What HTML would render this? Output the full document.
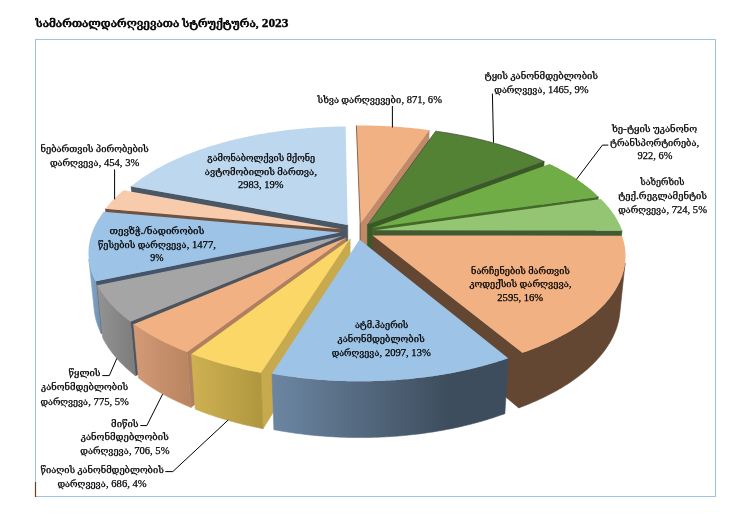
<!DOCTYPE html>
<html lang="ka"><head><meta charset="utf-8"><title>სამართალდარღვევათა სტრუქტურა, 2023</title>
<style>
html,body{margin:0;padding:0;background:#fff;}
body{width:740px;height:530px;overflow:hidden;position:relative;font-family:"Liberation Serif","DejaVu Serif",serif;}
svg{position:absolute;left:0;top:0;}
text{font-family:"Liberation Serif","DejaVu Serif",serif;fill:#000;stroke:#000;stroke-width:0.25px;}
.n{font-size:10px;}
</style></head><body>
<svg width="740" height="530" viewBox="0 0 740 530">
<rect x="35.5" y="39.5" width="680" height="457" fill="#fff" stroke="#9DC3E6" stroke-width="1"/>
<line x1="35.5" y1="482" x2="35.5" y2="497" stroke="#6B3F1C" stroke-width="1.2"/>
<g shape-rendering="geometricPrecision">
<defs><linearGradient id="g_tevz" gradientUnits="userSpaceOnUse" x1="88.8" y1="0" x2="101.1" y2="0"><stop offset="0" stop-color="#86A9CC"/><stop offset="1" stop-color="#6F8EAE"/></linearGradient><linearGradient id="g_tsylis" gradientUnits="userSpaceOnUse" x1="97.2" y1="0" x2="135.4" y2="0"><stop offset="0" stop-color="#939393"/><stop offset="1" stop-color="#7C7C7C"/></linearGradient><linearGradient id="g_mitsis" gradientUnits="userSpaceOnUse" x1="133.6" y1="0" x2="190.9" y2="0"><stop offset="0" stop-color="#D39A76"/><stop offset="1" stop-color="#B98460"/></linearGradient><linearGradient id="g_tsiag" gradientUnits="userSpaceOnUse" x1="191.4" y1="0" x2="263.1" y2="0"><stop offset="0" stop-color="#CFB152"/><stop offset="1" stop-color="#AF963F"/></linearGradient><linearGradient id="g_atm" gradientUnits="userSpaceOnUse" x1="271.9" y1="0" x2="508.3" y2="0"><stop offset="0" stop-color="#6C86A2"/><stop offset="0.75" stop-color="#3D4D5D"/><stop offset="1" stop-color="#3D4D5D"/></linearGradient></defs>
<path d="M360.20 223.58 L429.17 130.14 L427.98 174.72 L360.15 272.92Z" fill="#C08A68" stroke="#C08A68" stroke-width="0.6" stroke-linejoin="round"/>
<path d="M347.88 274.33 L135.21 233.91 L131.11 186.40 L347.69 224.92Z" fill="#4A5866" stroke="#4A5866" stroke-width="0.6" stroke-linejoin="round"/>
<path d="M367.51 224.97 L544.18 161.59 L540.93 207.83 L367.32 274.38Z" fill="#3A5A25" stroke="#3A5A25" stroke-width="0.6" stroke-linejoin="round"/>
<path d="M372.83 227.83 L598.39 196.63 L593.96 244.64 L372.54 277.38Z" fill="#44692B" stroke="#44692B" stroke-width="0.6" stroke-linejoin="round"/>
<path d="M341.25 278.92 L110.10 257.42 L105.39 208.79 L340.93 229.30Z" fill="#6F5240" stroke="#6F5240" stroke-width="0.6" stroke-linejoin="round"/>
<path d="M374.59 230.34 L622.06 230.46 L616.96 280.13 L374.26 280.00Z" fill="#425A33" stroke="#425A33" stroke-width="0.6" stroke-linejoin="round"/>
<path d="M340.65 282.15 L101.15 333.40 L95.77 281.36 L340.32 232.38Z" fill="#44546A" stroke="#44546A" stroke-width="0.6" stroke-linejoin="round"/>
<path d="M101.15 333.40 L100.61 332.29 L100.10 331.17 L99.60 330.06 L99.12 328.94 L98.67 327.83 L98.24 326.71 L97.82 325.59 L97.43 324.48 L97.06 323.36 L96.71 322.24 L96.38 321.12 L96.07 320.00 L95.78 318.89 L95.51 317.77 L95.26 316.65 L95.03 315.53 L94.82 314.42 L94.63 313.30 L94.46 312.18 L94.32 311.07 L94.19 309.95 L88.82 258.94 L88.94 260.00 L89.08 261.07 L89.25 262.13 L89.43 263.20 L89.64 264.27 L89.87 265.34 L90.11 266.41 L90.38 267.47 L90.67 268.54 L90.98 269.61 L91.31 270.68 L91.66 271.75 L92.03 272.82 L92.42 273.89 L92.84 274.96 L93.27 276.03 L93.73 277.09 L94.21 278.16 L94.70 279.23 L95.22 280.29 L95.77 281.36Z" fill="url(#g_tevz)" stroke="url(#g_tevz)" stroke-width="0.6" stroke-linejoin="round"/>
<path d="M372.61 235.52 L522.45 352.77 L518.75 407.89 L372.32 285.44ZM619.70 314.27 L619.56 315.39 L619.39 316.52 L619.21 317.64 L619.00 318.77 L618.78 319.90 L618.53 321.02 L618.27 322.15 L617.98 323.28 L617.67 324.41 L617.35 325.54 L617.00 326.67 L616.63 327.79 L616.24 328.92 L615.83 330.05 L615.40 331.18 L614.95 332.30 L614.48 333.43 L613.98 334.55 L613.47 335.68 L612.93 336.80 L612.38 337.92 L611.80 339.04 L611.20 340.16 L610.58 341.28 L609.94 342.39 L609.28 343.51 L608.60 344.62 L607.90 345.73 L607.17 346.84 L606.43 347.94 L605.66 349.05 L604.87 350.15 L604.06 351.25 L603.23 352.35 L602.37 353.44 L601.50 354.53 L600.61 355.62 L599.69 356.70 L598.75 357.79 L597.79 358.86 L596.81 359.94 L595.81 361.01 L594.79 362.08 L593.75 363.14 L592.68 364.21 L591.59 365.26 L590.49 366.31 L589.36 367.36 L588.21 368.41 L587.04 369.45 L585.85 370.48 L584.64 371.51 L583.40 372.54 L582.15 373.56 L580.88 374.57 L579.58 375.58 L578.26 376.59 L576.93 377.59 L575.57 378.58 L574.19 379.57 L572.80 380.55 L571.38 381.53 L569.94 382.50 L568.48 383.46 L567.00 384.42 L565.51 385.37 L563.99 386.31 L562.45 387.25 L560.89 388.18 L559.32 389.11 L557.72 390.02 L556.10 390.93 L554.47 391.84 L552.81 392.73 L551.14 393.62 L549.45 394.50 L547.74 395.37 L546.01 396.24 L544.26 397.10 L542.50 397.94 L540.71 398.79 L538.91 399.62 L537.09 400.44 L535.25 401.26 L533.39 402.06 L531.52 402.86 L529.63 403.65 L527.72 404.43 L525.80 405.20 L523.86 405.96 L521.90 406.71 L519.93 407.46 L518.75 407.89 L522.45 352.77 L523.65 352.35 L525.67 351.64 L527.67 350.91 L529.65 350.18 L531.61 349.44 L533.56 348.69 L535.49 347.93 L537.40 347.17 L539.30 346.39 L541.17 345.61 L543.03 344.82 L544.87 344.02 L546.69 343.21 L548.49 342.40 L550.27 341.58 L552.04 340.75 L553.78 339.91 L555.51 339.06 L557.22 338.21 L558.90 337.35 L560.57 336.49 L562.22 335.61 L563.84 334.73 L565.45 333.85 L567.04 332.95 L568.61 332.05 L570.15 331.15 L571.68 330.23 L573.19 329.31 L574.67 328.39 L576.14 327.46 L577.58 326.52 L579.00 325.58 L580.41 324.63 L581.79 323.68 L583.15 322.72 L584.49 321.76 L585.80 320.79 L587.10 319.82 L588.38 318.84 L589.63 317.86 L590.86 316.87 L592.07 315.88 L593.26 314.88 L594.43 313.88 L595.58 312.88 L596.70 311.87 L597.81 310.85 L598.89 309.84 L599.95 308.82 L600.99 307.79 L602.00 306.77 L603.00 305.74 L603.97 304.70 L604.92 303.67 L605.85 302.63 L606.76 301.58 L607.64 300.54 L608.51 299.49 L609.35 298.44 L610.17 297.39 L610.97 296.33 L611.75 295.28 L612.50 294.22 L613.23 293.16 L613.95 292.09 L614.64 291.03 L615.30 289.96 L615.95 288.89 L616.58 287.82 L617.18 286.75 L617.76 285.68 L618.32 284.61 L618.86 283.53 L619.38 282.46 L619.87 281.38 L620.35 280.31 L620.80 279.23 L621.23 278.15 L621.64 277.07 L622.03 275.99 L622.40 274.91 L622.75 273.84 L623.08 272.76 L623.38 271.68 L623.67 270.60 L623.93 269.52 L624.17 268.44 L624.40 267.36 L624.60 266.29 L624.78 265.21 L624.94 264.13 L625.08 263.06Z" fill="#634733" stroke="#634733" stroke-width="0.6" stroke-linejoin="round"/>
<path d="M343.07 285.74 L135.40 375.68 L130.49 321.85 L342.79 235.81Z" fill="#4C545E" stroke="#4C545E" stroke-width="0.6" stroke-linejoin="round"/>
<path d="M135.40 375.68 L134.11 374.67 L132.84 373.65 L131.59 372.63 L130.36 371.60 L129.15 370.57 L127.97 369.53 L126.80 368.49 L125.66 367.44 L124.54 366.39 L123.43 365.34 L122.35 364.28 L121.29 363.21 L120.25 362.15 L119.24 361.08 L118.24 360.00 L117.27 358.93 L116.31 357.85 L115.38 356.76 L114.47 355.68 L113.58 354.59 L112.71 353.49 L111.86 352.40 L111.04 351.30 L110.23 350.20 L109.45 349.09 L108.69 347.99 L107.94 346.88 L107.22 345.77 L106.53 344.66 L105.85 343.55 L105.19 342.43 L104.56 341.31 L103.94 340.19 L103.35 339.07 L102.78 337.95 L102.55 337.48 L97.16 285.26 L97.40 285.71 L97.98 286.79 L98.57 287.86 L99.19 288.93 L99.83 290.00 L100.50 291.07 L101.18 292.13 L101.89 293.20 L102.62 294.26 L103.37 295.32 L104.14 296.38 L104.93 297.44 L105.75 298.49 L106.58 299.54 L107.44 300.59 L108.32 301.64 L109.22 302.68 L110.15 303.72 L111.09 304.76 L112.06 305.80 L113.05 306.83 L114.06 307.86 L115.09 308.88 L116.15 309.90 L117.23 310.92 L118.32 311.94 L119.44 312.95 L120.58 313.96 L121.75 314.96 L122.93 315.96 L124.14 316.95 L125.37 317.94 L126.62 318.92 L127.89 319.91 L129.18 320.88 L130.49 321.85Z" fill="url(#g_tsylis)" stroke="url(#g_tsylis)" stroke-width="0.6" stroke-linejoin="round"/>
<path d="M346.30 287.67 L190.91 407.38 L187.09 352.27 L346.08 237.65Z" fill="#B07F60" stroke="#B07F60" stroke-width="0.6" stroke-linejoin="round"/>
<path d="M190.91 407.38 L188.99 406.59 L187.09 405.80 L185.21 405.00 L183.34 404.18 L181.50 403.36 L179.67 402.53 L177.86 401.70 L176.06 400.85 L174.29 400.00 L172.53 399.13 L170.79 398.26 L169.07 397.38 L167.37 396.50 L165.69 395.60 L164.03 394.70 L162.39 393.79 L160.76 392.88 L159.16 391.95 L157.57 391.02 L156.01 390.09 L154.46 389.14 L152.93 388.19 L151.43 387.23 L149.94 386.27 L148.47 385.30 L147.03 384.32 L145.60 383.34 L144.20 382.35 L142.81 381.36 L141.45 380.36 L140.10 379.35 L138.78 378.34 L138.43 378.07 L133.58 324.15 L133.93 324.40 L135.28 325.37 L136.64 326.34 L138.03 327.30 L139.44 328.25 L140.88 329.20 L142.33 330.14 L143.80 331.08 L145.30 332.01 L146.81 332.94 L148.35 333.85 L149.90 334.77 L151.48 335.67 L153.07 336.57 L154.69 337.46 L156.33 338.35 L157.98 339.23 L159.66 340.10 L161.35 340.97 L163.07 341.83 L164.80 342.68 L166.56 343.52 L168.33 344.36 L170.12 345.18 L171.94 346.00 L173.77 346.82 L175.61 347.62 L177.48 348.42 L179.37 349.21 L181.27 349.99 L183.19 350.76 L185.13 351.52 L187.09 352.27Z" fill="url(#g_mitsis)" stroke="url(#g_mitsis)" stroke-width="0.6" stroke-linejoin="round"/>
<path d="M350.25 288.97 L263.08 428.64 L260.87 372.70 L350.11 238.90Z" fill="#C8AA4E" stroke="#C8AA4E" stroke-width="0.6" stroke-linejoin="round"/>
<path d="M263.08 428.64 L260.72 428.18 L258.38 427.72 L256.04 427.24 L253.71 426.76 L251.39 426.25 L249.09 425.74 L246.79 425.22 L244.51 424.68 L242.24 424.14 L239.99 423.58 L237.74 423.01 L235.51 422.43 L233.29 421.84 L231.09 421.23 L228.90 420.62 L226.72 420.00 L224.55 419.36 L222.40 418.71 L220.27 418.06 L218.15 417.39 L216.04 416.71 L213.95 416.03 L211.88 415.33 L209.81 414.62 L207.77 413.90 L205.74 413.17 L203.73 412.43 L201.73 411.69 L199.75 410.93 L197.79 410.16 L195.84 409.39 L195.16 409.11 L191.44 353.94 L192.13 354.20 L194.12 354.95 L196.12 355.68 L198.14 356.41 L200.18 357.13 L202.24 357.84 L204.31 358.54 L206.40 359.23 L208.51 359.91 L210.63 360.58 L212.76 361.24 L214.92 361.89 L217.08 362.53 L219.27 363.16 L221.46 363.78 L223.68 364.39 L225.90 364.99 L228.14 365.58 L230.40 366.16 L232.67 366.73 L234.95 367.29 L237.24 367.84 L239.55 368.37 L241.87 368.90 L244.21 369.41 L246.55 369.92 L248.91 370.41 L251.28 370.89 L253.66 371.36 L256.05 371.82 L258.45 372.27 L260.87 372.70Z" fill="url(#g_tsiag)" stroke="url(#g_tsiag)" stroke-width="0.6" stroke-linejoin="round"/>
<path d="M504.86 413.64 L502.83 414.38 L500.79 415.11 L498.74 415.82 L496.67 416.53 L494.58 417.23 L492.48 417.92 L490.36 418.59 L488.23 419.26 L486.09 419.91 L483.93 420.56 L481.75 421.19 L479.56 421.82 L477.36 422.43 L475.15 423.03 L472.92 423.62 L470.68 424.20 L468.42 424.77 L466.16 425.32 L463.88 425.87 L461.59 426.40 L459.28 426.92 L456.97 427.43 L454.65 427.93 L452.31 428.42 L449.96 428.89 L447.61 429.36 L445.24 429.81 L442.86 430.24 L440.47 430.67 L438.08 431.08 L435.67 431.49 L433.25 431.88 L430.83 432.25 L428.40 432.62 L425.96 432.97 L423.51 433.31 L421.06 433.63 L418.59 433.95 L416.12 434.25 L413.65 434.53 L411.16 434.81 L408.68 435.07 L406.18 435.32 L403.68 435.56 L401.18 435.78 L398.67 435.99 L396.15 436.19 L393.63 436.37 L391.11 436.54 L388.58 436.70 L386.05 436.84 L383.52 436.97 L380.98 437.09 L378.44 437.19 L375.90 437.28 L373.36 437.36 L370.81 437.42 L368.27 437.48 L365.72 437.51 L363.17 437.54 L360.62 437.55 L358.08 437.54 L355.53 437.53 L352.98 437.50 L350.43 437.46 L347.89 437.40 L345.34 437.33 L342.80 437.25 L340.26 437.15 L337.72 437.04 L335.18 436.92 L332.65 436.78 L330.12 436.63 L327.60 436.47 L325.07 436.29 L322.56 436.10 L320.04 435.90 L317.53 435.69 L315.03 435.46 L312.53 435.22 L310.04 434.96 L307.55 434.69 L305.07 434.41 L302.59 434.12 L300.12 433.82 L297.66 433.50 L295.21 433.16 L292.76 432.82 L290.32 432.46 L287.89 432.09 L285.47 431.71 L283.06 431.32 L280.65 430.91 L278.26 430.49 L275.87 430.06 L273.89 429.69 L271.93 373.72 L273.95 374.07 L276.39 374.48 L278.85 374.89 L281.31 375.28 L283.77 375.66 L286.25 376.02 L288.74 376.38 L291.23 376.72 L293.74 377.05 L296.25 377.37 L298.77 377.68 L301.29 377.97 L303.83 378.26 L306.37 378.53 L308.91 378.78 L311.47 379.03 L314.02 379.26 L316.59 379.48 L319.15 379.69 L321.73 379.88 L324.31 380.06 L326.89 380.23 L329.47 380.39 L332.06 380.53 L334.66 380.66 L337.25 380.78 L339.85 380.89 L342.45 380.98 L345.05 381.06 L347.66 381.13 L350.27 381.18 L352.87 381.22 L355.48 381.25 L358.09 381.27 L360.70 381.27 L363.31 381.26 L365.91 381.24 L368.52 381.20 L371.13 381.15 L373.73 381.09 L376.34 381.02 L378.94 380.93 L381.54 380.83 L384.13 380.72 L386.73 380.59 L389.32 380.45 L391.90 380.30 L394.49 380.14 L397.07 379.96 L399.64 379.77 L402.21 379.57 L404.77 379.35 L407.33 379.13 L409.89 378.89 L412.43 378.64 L414.97 378.37 L417.51 378.09 L420.04 377.81 L422.56 377.50 L425.07 377.19 L427.57 376.86 L430.07 376.53 L432.56 376.18 L435.04 375.81 L437.51 375.44 L439.97 375.05 L442.42 374.66 L444.87 374.25 L447.30 373.82 L449.72 373.39 L452.13 372.95 L454.53 372.49 L456.92 372.02 L459.30 371.54 L461.67 371.05 L464.02 370.55 L466.37 370.04 L468.70 369.51 L471.02 368.98 L473.32 368.43 L475.61 367.88 L477.89 367.31 L480.16 366.73 L482.41 366.14 L484.64 365.54 L486.87 364.93 L489.07 364.32 L491.27 363.69 L493.45 363.05 L495.61 362.40 L497.76 361.74 L499.89 361.07 L502.01 360.39 L504.11 359.70 L506.19 359.00 L508.26 358.29Z" fill="url(#g_atm)" stroke="url(#g_atm)" stroke-width="0.6" stroke-linejoin="round"/>
<path d="M360.20 223.58 L356.40 125.51 L358.25 125.50 L360.10 125.50 L361.95 125.50 L363.79 125.51 L365.64 125.53 L367.48 125.56 L369.33 125.59 L371.18 125.62 L373.02 125.66 L374.87 125.71 L376.71 125.77 L378.55 125.83 L380.40 125.90 L382.24 125.98 L384.08 126.06 L385.92 126.14 L387.75 126.24 L389.59 126.34 L391.43 126.45 L393.26 126.56 L395.09 126.68 L396.93 126.81 L398.76 126.94 L400.58 127.08 L402.41 127.23 L404.23 127.38 L406.05 127.54 L407.88 127.70 L409.69 127.87 L411.51 128.05 L413.32 128.24 L415.13 128.43 L416.94 128.62 L418.75 128.83 L420.55 129.04 L422.35 129.25 L424.15 129.48 L425.94 129.71 L427.73 129.94 L429.17 130.14Z" fill="#F2B183"/>
<path d="M360.15 272.92 L360.20 223.58 L356.40 125.51" fill="none" stroke="#6B4A36" stroke-width="0.8"/>
<path d="M347.69 224.92 L131.11 186.40 L132.12 185.57 L133.14 184.75 L134.17 183.92 L135.22 183.11 L136.28 182.30 L137.35 181.49 L138.43 180.69 L139.53 179.90 L140.64 179.11 L141.76 178.32 L142.89 177.54 L144.04 176.77 L145.19 176.00 L146.36 175.23 L147.54 174.47 L148.73 173.72 L149.93 172.97 L151.15 172.23 L152.37 171.49 L153.61 170.75 L154.86 170.03 L156.12 169.31 L157.38 168.59 L158.66 167.88 L159.95 167.17 L161.25 166.47 L162.56 165.78 L163.89 165.09 L165.22 164.41 L166.56 163.73 L167.91 163.06 L169.27 162.39 L170.64 161.73 L172.02 161.08 L173.41 160.43 L174.80 159.78 L176.21 159.15 L177.63 158.52 L179.05 157.89 L180.49 157.27 L181.93 156.65 L183.39 156.05 L184.85 155.44 L186.32 154.85 L187.79 154.26 L189.28 153.67 L190.77 153.09 L192.28 152.52 L193.79 151.95 L195.30 151.39 L196.83 150.84 L198.36 150.29 L199.90 149.74 L201.45 149.21 L203.01 148.68 L204.57 148.15 L206.14 147.63 L207.72 147.12 L209.31 146.61 L210.90 146.11 L212.50 145.62 L214.10 145.13 L215.71 144.65 L217.33 144.17 L218.95 143.70 L220.59 143.24 L222.22 142.78 L223.87 142.33 L225.52 141.89 L227.17 141.45 L228.83 141.01 L230.50 140.59 L232.17 140.17 L233.85 139.75 L235.53 139.35 L237.22 138.94 L238.92 138.55 L240.61 138.16 L242.32 137.78 L244.03 137.40 L245.74 137.03 L247.46 136.67 L249.19 136.31 L250.91 135.96 L252.65 135.61 L254.38 135.28 L256.13 134.94 L257.87 134.62 L259.62 134.30 L261.38 133.98 L263.14 133.68 L264.90 133.38 L266.66 133.08 L268.43 132.80 L270.21 132.51 L271.98 132.24 L273.77 131.97 L275.55 131.71 L277.34 131.45 L279.13 131.20 L280.92 130.96 L282.72 130.72 L284.52 130.49 L286.32 130.27 L288.13 130.05 L289.93 129.84 L291.74 129.64 L293.56 129.44 L295.37 129.25 L297.19 129.06 L299.01 128.88 L300.83 128.71 L302.66 128.55 L304.48 128.39 L306.31 128.23 L308.14 128.09 L309.98 127.95 L311.81 127.81 L313.64 127.69 L315.48 127.57 L317.32 127.45 L319.16 127.34 L321.00 127.24 L322.84 127.15 L324.69 127.06 L326.53 126.98 L328.38 126.90 L330.22 126.83 L332.07 126.77 L333.92 126.71 L335.76 126.66 L337.61 126.62 L339.46 126.58 L341.31 126.55 L343.16 126.53 L345.01 126.51 L345.61 126.51Z" fill="#BDD7EE"/>
<path d="M367.51 224.97 L435.65 131.19 L437.44 131.44 L439.23 131.69 L441.02 131.95 L442.80 132.22 L444.58 132.49 L446.35 132.77 L448.12 133.06 L449.89 133.35 L451.65 133.65 L453.41 133.96 L455.17 134.27 L456.92 134.59 L458.67 134.91 L460.41 135.24 L462.15 135.58 L463.88 135.92 L465.61 136.27 L467.34 136.63 L469.06 136.99 L470.77 137.36 L472.48 137.73 L474.19 138.12 L475.89 138.50 L477.59 138.90 L479.28 139.30 L480.96 139.70 L482.64 140.12 L484.31 140.53 L485.98 140.96 L487.64 141.39 L489.30 141.83 L490.95 142.27 L492.60 142.72 L494.24 143.18 L495.87 143.64 L497.49 144.11 L499.11 144.58 L500.73 145.06 L502.33 145.55 L503.93 146.04 L505.53 146.54 L507.11 147.05 L508.69 147.56 L510.27 148.08 L511.83 148.60 L513.39 149.13 L514.94 149.67 L516.48 150.21 L518.02 150.76 L519.55 151.31 L521.07 151.87 L522.58 152.43 L524.08 153.01 L525.58 153.58 L527.07 154.17 L528.55 154.76 L530.02 155.35 L531.48 155.95 L532.94 156.56 L534.38 157.17 L535.82 157.79 L537.25 158.42 L538.67 159.05 L540.08 159.68 L541.48 160.33 L542.87 160.97 L544.18 161.59Z" fill="#548235" stroke="#3F4540" stroke-width="0.7"/>
<path d="M372.83 227.83 L549.67 163.97 L551.06 164.63 L552.43 165.30 L553.79 165.98 L555.15 166.66 L556.49 167.34 L557.83 168.04 L559.15 168.73 L560.47 169.44 L561.77 170.15 L563.06 170.86 L564.35 171.58 L565.62 172.31 L566.88 173.04 L568.13 173.78 L569.37 174.52 L570.60 175.26 L571.81 176.02 L573.02 176.78 L574.21 177.54 L575.40 178.31 L576.57 179.08 L577.73 179.86 L578.87 180.65 L580.01 181.44 L581.13 182.23 L582.24 183.03 L583.34 183.84 L584.43 184.65 L585.50 185.46 L586.56 186.28 L587.61 187.11 L588.65 187.94 L589.67 188.77 L590.68 189.61 L591.67 190.46 L592.66 191.31 L593.63 192.16 L594.58 193.02 L595.52 193.89 L596.45 194.76 L597.37 195.63 L598.27 196.51 L598.39 196.63Z" fill="#70AD47"/>
<path d="M340.93 229.30 L105.39 208.79 L106.12 207.86 L106.86 206.93 L107.61 206.01 L108.39 205.09 L109.17 204.17 L109.98 203.26 L110.79 202.35 L111.62 201.45 L112.47 200.55 L113.33 199.65 L114.21 198.76 L115.09 197.88 L116.00 197.00 L116.92 196.12 L117.85 195.25 L118.79 194.38 L119.75 193.52 L120.72 192.66 L121.71 191.81 L122.71 190.96 L123.47 190.33Z" fill="#F8CBAD"/>
<path d="M374.59 230.34 L600.82 198.92 L601.71 199.81 L602.58 200.70 L603.44 201.60 L604.29 202.50 L605.12 203.41 L605.94 204.32 L606.74 205.23 L607.53 206.15 L608.30 207.07 L609.06 208.00 L609.80 208.93 L610.53 209.87 L611.24 210.81 L611.94 211.75 L612.61 212.70 L613.28 213.65 L613.93 214.61 L614.56 215.57 L615.17 216.53 L615.77 217.50 L616.35 218.47 L616.92 219.44 L617.47 220.42 L618.00 221.40 L618.52 222.38 L619.02 223.37 L619.50 224.36 L619.96 225.36 L620.41 226.35 L620.84 227.35 L621.25 228.35 L621.65 229.36 L622.02 230.37 L622.06 230.46Z" fill="#93C572"/>
<path d="M340.32 232.38 L95.77 281.36 L95.22 280.29 L94.70 279.23 L94.21 278.16 L93.73 277.09 L93.27 276.03 L92.84 274.96 L92.42 273.89 L92.03 272.82 L91.66 271.75 L91.31 270.68 L90.98 269.61 L90.67 268.54 L90.38 267.47 L90.11 266.41 L89.87 265.34 L89.64 264.27 L89.43 263.20 L89.25 262.13 L89.08 261.07 L88.94 260.00 L88.82 258.94 L88.71 257.87 L88.63 256.81 L88.56 255.75 L88.52 254.69 L88.50 253.63 L88.49 252.57 L88.51 251.51 L88.54 250.46 L88.60 249.40 L88.67 248.35 L88.76 247.30 L88.88 246.25 L89.01 245.20 L89.16 244.16 L89.33 243.12 L89.52 242.08 L89.72 241.04 L89.95 240.00 L90.20 238.97 L90.46 237.94 L90.74 236.91 L91.04 235.88 L91.36 234.86 L91.69 233.83 L92.05 232.82 L92.42 231.80 L92.81 230.79 L93.22 229.78 L93.64 228.77 L94.09 227.77 L94.55 226.77 L95.02 225.77 L95.52 224.78 L96.03 223.79 L96.56 222.80 L97.10 221.81 L97.67 220.83 L98.25 219.86 L98.84 218.88 L99.45 217.91 L100.08 216.95 L100.72 215.98 L101.39 215.03 L102.06 214.07 L102.75 213.12 L103.46 212.17 L103.82 211.70Z" fill="#9DC3E6"/>
<path d="M372.61 235.52 L621.84 235.65 L622.20 236.67 L622.55 237.70 L622.87 238.74 L623.18 239.77 L623.46 240.81 L623.73 241.85 L623.98 242.89 L624.21 243.93 L624.42 244.98 L624.62 246.03 L624.79 247.08 L624.95 248.13 L625.09 249.19 L625.20 250.25 L625.30 251.31 L625.38 252.37 L625.44 253.43 L625.48 254.49 L625.50 255.56 L625.50 256.63 L625.48 257.70 L625.44 258.77 L625.38 259.84 L625.30 260.91 L625.20 261.98 L625.08 263.06 L624.94 264.13 L624.78 265.21 L624.60 266.29 L624.40 267.36 L624.17 268.44 L623.93 269.52 L623.67 270.60 L623.38 271.68 L623.08 272.76 L622.75 273.84 L622.40 274.91 L622.03 275.99 L621.64 277.07 L621.23 278.15 L620.80 279.23 L620.35 280.31 L619.87 281.38 L619.38 282.46 L618.86 283.53 L618.32 284.61 L617.76 285.68 L617.18 286.75 L616.58 287.82 L615.95 288.89 L615.30 289.96 L614.64 291.03 L613.95 292.09 L613.23 293.16 L612.50 294.22 L611.75 295.28 L610.97 296.33 L610.17 297.39 L609.35 298.44 L608.51 299.49 L607.64 300.54 L606.76 301.58 L605.85 302.63 L604.92 303.67 L603.97 304.70 L603.00 305.74 L602.00 306.77 L600.99 307.79 L599.95 308.82 L598.89 309.84 L597.81 310.85 L596.70 311.87 L595.58 312.88 L594.43 313.88 L593.26 314.88 L592.07 315.88 L590.86 316.87 L589.63 317.86 L588.38 318.84 L587.10 319.82 L585.80 320.79 L584.49 321.76 L583.15 322.72 L581.79 323.68 L580.41 324.63 L579.00 325.58 L577.58 326.52 L576.14 327.46 L574.67 328.39 L573.19 329.31 L571.68 330.23 L570.15 331.15 L568.61 332.05 L567.04 332.95 L565.45 333.85 L563.84 334.73 L562.22 335.61 L560.57 336.49 L558.90 337.35 L557.22 338.21 L555.51 339.06 L553.78 339.91 L552.04 340.75 L550.27 341.58 L548.49 342.40 L546.69 343.21 L544.87 344.02 L543.03 344.82 L541.17 345.61 L539.30 346.39 L537.40 347.17 L535.49 347.93 L533.56 348.69 L531.61 349.44 L529.65 350.18 L527.67 350.91 L525.67 351.64 L523.65 352.35 L522.45 352.77Z" fill="#F2B183"/>
<path d="M342.79 235.81 L130.49 321.85 L129.18 320.88 L127.89 319.91 L126.62 318.92 L125.37 317.94 L124.14 316.95 L122.93 315.96 L121.75 314.96 L120.58 313.96 L119.44 312.95 L118.32 311.94 L117.23 310.92 L116.15 309.90 L115.09 308.88 L114.06 307.86 L113.05 306.83 L112.06 305.80 L111.09 304.76 L110.15 303.72 L109.22 302.68 L108.32 301.64 L107.44 300.59 L106.58 299.54 L105.75 298.49 L104.93 297.44 L104.14 296.38 L103.37 295.32 L102.62 294.26 L101.89 293.20 L101.18 292.13 L100.50 291.07 L99.83 290.00 L99.19 288.93 L98.57 287.86 L97.98 286.79 L97.40 285.71 L97.16 285.26Z" fill="#A5A5A5"/>
<path d="M346.08 237.65 L187.09 352.27 L185.13 351.52 L183.19 350.76 L181.27 349.99 L179.37 349.21 L177.48 348.42 L175.61 347.62 L173.77 346.82 L171.94 346.00 L170.12 345.18 L168.33 344.36 L166.56 343.52 L164.80 342.68 L163.07 341.83 L161.35 340.97 L159.66 340.10 L157.98 339.23 L156.33 338.35 L154.69 337.46 L153.07 336.57 L151.48 335.67 L149.90 334.77 L148.35 333.85 L146.81 332.94 L145.30 332.01 L143.80 331.08 L142.33 330.14 L140.88 329.20 L139.44 328.25 L138.03 327.30 L136.64 326.34 L135.28 325.37 L133.93 324.40 L133.58 324.15Z" fill="#F2B183"/>
<path d="M350.11 238.90 L260.87 372.70 L258.45 372.27 L256.05 371.82 L253.66 371.36 L251.28 370.89 L248.91 370.41 L246.55 369.92 L244.21 369.41 L241.87 368.90 L239.55 368.37 L237.24 367.84 L234.95 367.29 L232.67 366.73 L230.40 366.16 L228.14 365.58 L225.90 364.99 L223.68 364.39 L221.46 363.78 L219.27 363.16 L217.08 362.53 L214.92 361.89 L212.76 361.24 L210.63 360.58 L208.51 359.91 L206.40 359.23 L204.31 358.54 L202.24 357.84 L200.18 357.13 L198.14 356.41 L196.12 355.68 L194.12 354.95 L192.13 354.20 L191.44 353.94Z" fill="#FAD766"/>
<path d="M359.55 239.62 L508.26 358.29 L506.19 359.00 L504.11 359.70 L502.01 360.39 L499.89 361.07 L497.76 361.74 L495.61 362.40 L493.45 363.05 L491.27 363.69 L489.07 364.32 L486.87 364.93 L484.64 365.54 L482.41 366.14 L480.16 366.73 L477.89 367.31 L475.61 367.88 L473.32 368.43 L471.02 368.98 L468.70 369.51 L466.37 370.04 L464.02 370.55 L461.67 371.05 L459.30 371.54 L456.92 372.02 L454.53 372.49 L452.13 372.95 L449.72 373.39 L447.30 373.82 L444.87 374.25 L442.42 374.66 L439.97 375.05 L437.51 375.44 L435.04 375.81 L432.56 376.18 L430.07 376.53 L427.57 376.86 L425.07 377.19 L422.56 377.50 L420.04 377.81 L417.51 378.09 L414.97 378.37 L412.43 378.64 L409.89 378.89 L407.33 379.13 L404.77 379.35 L402.21 379.57 L399.64 379.77 L397.07 379.96 L394.49 380.14 L391.90 380.30 L389.32 380.45 L386.73 380.59 L384.13 380.72 L381.54 380.83 L378.94 380.93 L376.34 381.02 L373.73 381.09 L371.13 381.15 L368.52 381.20 L365.91 381.24 L363.31 381.26 L360.70 381.27 L358.09 381.27 L355.48 381.25 L352.87 381.22 L350.27 381.18 L347.66 381.13 L345.05 381.06 L342.45 380.98 L339.85 380.89 L337.25 380.78 L334.66 380.66 L332.06 380.53 L329.47 380.39 L326.89 380.23 L324.31 380.06 L321.73 379.88 L319.15 379.69 L316.59 379.48 L314.02 379.26 L311.47 379.03 L308.91 378.78 L306.37 378.53 L303.83 378.26 L301.29 377.97 L298.77 377.68 L296.25 377.37 L293.74 377.05 L291.23 376.72 L288.74 376.38 L286.25 376.02 L283.77 375.66 L281.31 375.28 L278.85 374.89 L276.39 374.48 L273.95 374.07 L271.93 373.72Z" fill="#9DC3E6"/>
</g>
<g fill="none" stroke="#000" stroke-width="1">
<path d="M392.4 106 L392.4 127.5"/>
<path d="M492.4 93.6 L493.5 142.7"/>
<path d="M608.3 145.1 L602.4 145.1 L576.4 179.4"/>
<path d="M114.6 169.4 L114.6 199.3"/>
<path d="M102.3 375.6 L109.3 375.6 L116.8 358.4"/>
<path d="M140.3 425.6 L146.8 425.6 L162.6 394.1"/>
<path d="M165.3 471.6 L172.8 471.6 L228.1 420.1"/>
</g>
<text x="35.5" y="27" style="font-size:11.4px;stroke-width:0.65px" textLength="253" lengthAdjust="spacingAndGlyphs">სამართალდარღვევათა სტრუქტურა, <tspan style="font-size:13px;font-weight:bold;stroke-width:0.3px">2023</tspan></text>
<g font-size="8.3">
<text x="317.5" y="102.9" textLength="83.6" lengthAdjust="spacingAndGlyphs">სხვა დარღვევები</text>
<text x="401.4" y="102.9" textLength="40.6" lengthAdjust="spacingAndGlyphs" class="n">, 871, 6%</text>
<text x="484.6" y="79.3" textLength="113.5" lengthAdjust="spacingAndGlyphs">ტყის კანონმდებლობის</text>
<text x="494.3" y="93.0" textLength="48.1" lengthAdjust="spacingAndGlyphs">დარღვევა</text>
<text x="542.7" y="93.0" textLength="45.9" lengthAdjust="spacingAndGlyphs" class="n">, 1465, 9%</text>
<text x="611.9" y="132.0" textLength="85.2" lengthAdjust="spacingAndGlyphs">ხე<tspan class="n">-</tspan>ტყის უკანონო</text>
<text x="610.0" y="145.8" textLength="89.2" lengthAdjust="spacingAndGlyphs">ტრანსპორტირება<tspan class="n">,</tspan></text>
<text x="637.6" y="159.3" textLength="34.8" lengthAdjust="spacingAndGlyphs" class="n">922, 6%</text>
<text x="640.2" y="184.8" textLength="44.4" lengthAdjust="spacingAndGlyphs">სახერხის</text>
<text x="618.2" y="198.6" textLength="88.8" lengthAdjust="spacingAndGlyphs">ტექ<tspan class="n">.</tspan>რეგლამენტის</text>
<text x="618.2" y="212.8" textLength="47.9" lengthAdjust="spacingAndGlyphs">დარღვევა</text>
<text x="666.4" y="212.8" textLength="40.6" lengthAdjust="spacingAndGlyphs" class="n">, 724, 5%</text>
<text x="471.0" y="273.6" textLength="98.9" lengthAdjust="spacingAndGlyphs">ნარჩენების მართვის</text>
<text x="469.4" y="287.4" textLength="102.2" lengthAdjust="spacingAndGlyphs">კოდექსის დარღვევა<tspan class="n">,</tspan></text>
<text x="497.3" y="301.2" textLength="45.9" lengthAdjust="spacingAndGlyphs" class="n">2595, 16%</text>
<text x="354.9" y="327.7" textLength="53.5" lengthAdjust="spacingAndGlyphs">ატმ<tspan class="n">.</tspan>ჰაერის</text>
<text x="337.5" y="341.8" textLength="87.1" lengthAdjust="spacingAndGlyphs">კანონმდებლობის</text>
<text x="331.7" y="355.6" textLength="47.6" lengthAdjust="spacingAndGlyphs">დარღვევა</text>
<text x="379.6" y="355.6" textLength="51.2" lengthAdjust="spacingAndGlyphs" class="n">, 2097, 13%</text>
<text x="40.5" y="473.0" textLength="123.3" lengthAdjust="spacingAndGlyphs">წიაღის კანონმდებლობის</text>
<text x="57.4" y="486.8" textLength="48.3" lengthAdjust="spacingAndGlyphs">დარღვევა</text>
<text x="106.0" y="486.8" textLength="40.6" lengthAdjust="spacingAndGlyphs" class="n">, 686, 4%</text>
<text x="111.1" y="426.6" textLength="27.4" lengthAdjust="spacingAndGlyphs">მიწის</text>
<text x="80.7" y="440.4" textLength="88.2" lengthAdjust="spacingAndGlyphs">კანონმდებლობის</text>
<text x="80.3" y="454.2" textLength="48.3" lengthAdjust="spacingAndGlyphs">დარღვევა</text>
<text x="128.9" y="454.2" textLength="40.6" lengthAdjust="spacingAndGlyphs" class="n">, 706, 5%</text>
<text x="68.6" y="376.1" textLength="31.9" lengthAdjust="spacingAndGlyphs">წყლის</text>
<text x="41.0" y="390.3" textLength="87.1" lengthAdjust="spacingAndGlyphs">კანონმდებლობის</text>
<text x="40.5" y="404.5" textLength="47.5" lengthAdjust="spacingAndGlyphs">დარღვევა</text>
<text x="88.3" y="404.5" textLength="40.6" lengthAdjust="spacingAndGlyphs" class="n">, 775, 5%</text>
<text x="109.5" y="233.9" textLength="95.0" lengthAdjust="spacingAndGlyphs">თევზჭ<tspan class="n">./</tspan>ნადირობის</text>
<text x="97.9" y="247.5" textLength="88.5" lengthAdjust="spacingAndGlyphs">წესების დარღვევა</text>
<text x="186.7" y="247.5" textLength="29.2" lengthAdjust="spacingAndGlyphs" class="n">, 1477,</text>
<text x="150.2" y="261.3" textLength="13.2" lengthAdjust="spacingAndGlyphs" class="n">9%</text>
<text x="40.4" y="151.6" textLength="108.4" lengthAdjust="spacingAndGlyphs">ნებართვის პირობების</text>
<text x="49.9" y="165.6" textLength="48.5" lengthAdjust="spacingAndGlyphs">დარღვევა</text>
<text x="98.7" y="165.6" textLength="40.6" lengthAdjust="spacingAndGlyphs" class="n">, 454, 3%</text>
<text x="207.3" y="160.8" textLength="107.8" lengthAdjust="spacingAndGlyphs">გამონაბოლქვის მქონე</text>
<text x="204.8" y="174.6" textLength="112.2" lengthAdjust="spacingAndGlyphs">ავტომობილის მართვა<tspan class="n">,</tspan></text>
<text x="238.1" y="188.2" textLength="45.4" lengthAdjust="spacingAndGlyphs" class="n">2983, 19%</text>
</g>
</svg>
</body></html>
